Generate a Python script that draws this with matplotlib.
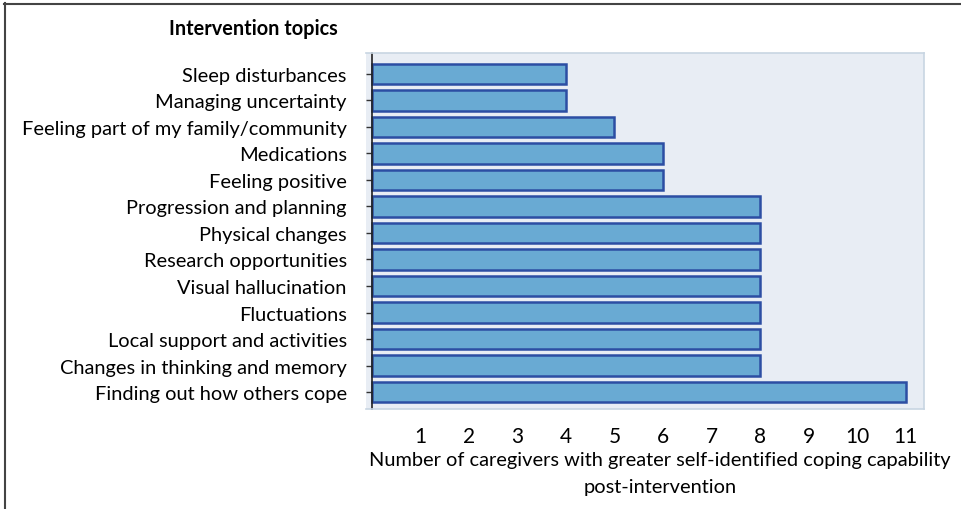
import matplotlib.pyplot as plt
from matplotlib.lines import Line2D

topics = [
    "Sleep disturbances",
    "Managing uncertainty",
    "Feeling part of my family/community",
    "Medications",
    "Feeling positive",
    "Progression and planning",
    "Physical changes",
    "Research opportunities",
    "Visual hallucination",
    "Fluctuations",
    "Local support and activities",
    "Changes in thinking and memory",
    "Finding out how others cope",
]
counts = [4, 4, 5, 6, 6, 8, 8, 8, 8, 8, 8, 8, 11]
xticks = list(range(1, 12))

plt.rcParams['font.family'] = ['Lato', 'DejaVu Sans']

fig = plt.figure(figsize=(9.62, 5.1), dpi=100)
ax = fig.add_axes([366/962, 1 - 410/510, 558/962, 356/510])
ax.set_facecolor('#e8edf4')

pos = list(range(len(topics)))
ax.barh(pos, counts, height=0.76, color='#69aad3', edgecolor='#2c4ea3', linewidth=1.8)

# spine first, it resets the tick settings
ax.spines['left'].set_position(('data', 0))
ax.spines['left'].set_color('#222222')
ax.spines['left'].set_linewidth(1.2)
for s in ['top', 'right', 'bottom']:
    ax.spines[s].set_color('#c8d5e2')
    ax.spines[s].set_linewidth(1.2)

ax.set_ylim(len(topics) - 1 + 0.64, -0.79)
ax.set_xlim(-0.12, 11.38)
ax.set_yticks(pos)
ax.set_yticklabels(topics)
ax.set_xticks(xticks)
ax.set_xticklabels([str(t) for t in xticks])
ax.tick_params(axis='y', length=4, width=1, color='#333333', pad=14, labelsize=14.4)
ax.tick_params(axis='x', length=0, pad=12, labelsize=15)

fig.text(660/962, 1 - 461/510, "Number of caregivers with greater self-identified coping capability",
         ha='center', va='center', fontsize=14.4)
fig.text(660/962, 1 - 487/510, "post-intervention", ha='center', va='center', fontsize=14.4)
fig.text(253/962, 1 - 29/510, "Intervention topics", ha='center', va='center',
         fontsize=14.3, fontweight='bold')

# frame lines along top and left edge
fig.add_artist(Line2D([4/962, 1], [1 - 4.5/510, 1 - 4.5/510], transform=fig.transFigure,
                      color='#444444', linewidth=1.5))
fig.add_artist(Line2D([4.5/962, 4.5/962], [0, 1 - 4/510], transform=fig.transFigure,
                      color='#444444', linewidth=1.5))

fig.savefig('out.png', dpi=100)
